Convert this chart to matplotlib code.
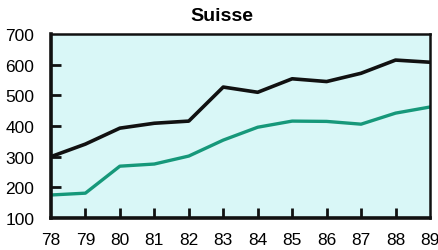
import matplotlib
matplotlib.use("Agg")
import matplotlib.pyplot as plt

years = [78, 79, 80, 81, 82, 83, 84, 85, 86, 87, 88, 89]
black_vals = [300, 341, 393, 409, 416, 527, 510, 554, 545, 572, 615, 608]
green_vals = [175, 181, 269, 276, 302, 354, 396, 416, 415, 406, 442, 462]
yticks = [100, 200, 300, 400, 500, 600, 700]

plt.rcParams["font.family"] = ["Liberation Sans", "DejaVu Sans"]

fig = plt.figure(figsize=(4.39, 2.51), dpi=100)
ax = fig.add_axes([0.116, 0.1275, 0.8635, 0.733])
ax.set_facecolor("#d9f7f7")

ax.plot(years, black_vals, color="#111111", lw=2.6, solid_joinstyle="round")
ax.plot(years, green_vals, color="#16987a", lw=2.4, solid_joinstyle="round")

ax.set_xlim(78, 89)
ax.set_ylim(100, 700)
ax.set_xticks(years)
ax.set_xticklabels([str(y) for y in years], fontsize=12.5)
ax.set_yticks(yticks)
ax.set_yticklabels([str(v) for v in yticks], fontsize=12.5)
ax.tick_params(direction="in", length=7, width=2, color="#111111")
ax.tick_params(axis="x", pad=10)
ax.tick_params(axis="y", pad=12)
# hide tick marks at the corners
for t in ax.xaxis.get_major_ticks()[::11]:
    t.tick1line.set_visible(False)
for t in [ax.yaxis.get_major_ticks()[0], ax.yaxis.get_major_ticks()[-1]]:
    t.tick1line.set_visible(False)

for side in ["left", "bottom"]:
    ax.spines[side].set_linewidth(2.6)
for side in ["top", "right"]:
    ax.spines[side].set_linewidth(1.8)
for s in ax.spines.values():
    s.set_color("#111111")

# title sits a bit left of the axes centre in the original
fig.text(222 / 439, 1 - 17 / 251, "Suisse", fontsize=14, fontweight="bold",
         ha="center", va="center")

fig.savefig("out.png", dpi=100)
